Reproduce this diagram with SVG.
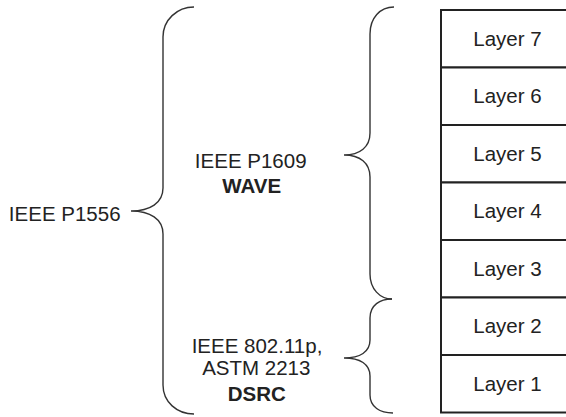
<svg xmlns="http://www.w3.org/2000/svg" width="566" height="417" viewBox="0 0 566 417">
<style>
text{font-family:"Liberation Sans",Arial,sans-serif;fill:#222;text-anchor:middle}
.t{font-size:20.5px}
.b{font-size:20.5px;font-weight:bold}
.l{font-size:20.5px}
.br{fill:none;stroke:#333;stroke-width:1.4}
.box{fill:#fff;stroke:#222;stroke-width:2}
</style>
<rect width="566" height="417" fill="#fff"/>
<g id="connectors">
<path class="br" d="M194,7 C177,7 163,20 163,37 L163,188 C163,203 150,211 131,211 C150,211 163,219 163,234 L163,385 C163,402 177,414 194,414"/>
<path class="br" d="M394,7 C380,7 370,18 370,34 L370,133 C370,147 360,155 344,155 C360,155 370,163 370,177 L370,274 C370,289 380,299 392,299"/>
<path class="br" d="M392,299 C380,299 370,305 370,318 L370,340 C370,352 360,358 344,358 C360,358 370,364 370,376 L370,395 C370,407 380,413 393,413"/>
</g>
<g id="ieee-p1556"><text class="t" x="64.7" y="221">IEEE P1556</text></g>
<g id="wave"><text class="t" x="250.7" y="168">IEEE P1609</text><text class="b" x="251.7" y="193">WAVE</text></g>
<g id="dsrc"><text class="t" x="257" y="353">IEEE 802.11p,</text><text class="t" x="256.3" y="375">ASTM 2213</text><text class="b" x="256.8" y="401">DSRC</text></g>
<g id="layer7"><rect class="box" x="441" y="10" width="140" height="57.5"/><text class="l" x="507.5" y="45.5">Layer 7</text></g>
<g id="layer6"><rect class="box" x="441" y="67.5" width="140" height="57.5"/><text class="l" x="507.5" y="103">Layer 6</text></g>
<g id="layer5"><rect class="box" x="441" y="125" width="140" height="57.5"/><text class="l" x="507.5" y="160.5">Layer 5</text></g>
<g id="layer4"><rect class="box" x="441" y="182.5" width="140" height="57.5"/><text class="l" x="507.5" y="218">Layer 4</text></g>
<g id="layer3"><rect class="box" x="441" y="240" width="140" height="57.5"/><text class="l" x="507.5" y="275.5">Layer 3</text></g>
<g id="layer2"><rect class="box" x="441" y="297.5" width="140" height="57.5"/><text class="l" x="507.5" y="333">Layer 2</text></g>
<g id="layer1"><rect class="box" x="441" y="355" width="140" height="57.5"/><text class="l" x="507.5" y="390.5">Layer 1</text></g>
</svg>
